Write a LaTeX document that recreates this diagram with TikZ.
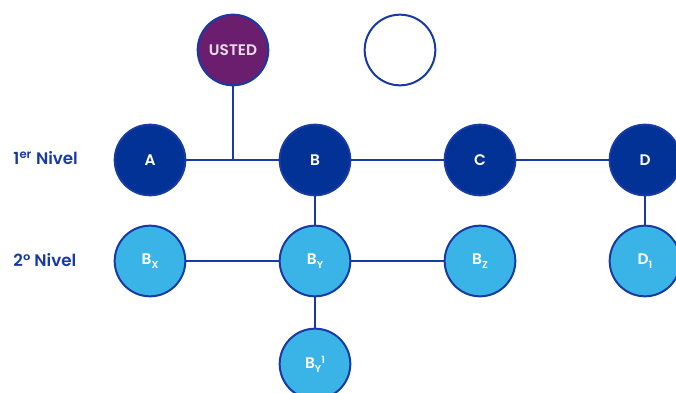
\documentclass[tikz,border=0pt]{standalone}
\usepackage{fontspec}
\setmainfont{Poppins}[BoldFont={Poppins SemiBold}]
\definecolor{azuloscuro}{RGB}{2,50,150}
\definecolor{borde}{RGB}{24,58,165}
\definecolor{celeste}{RGB}{58,180,230}
\definecolor{morado}{RGB}{108,30,110}
\tikzset{every picture/.style={line width=0.75pt}}
\tikzset{
  circulo/.style={circle,draw=borde,line width=1.5pt,minimum size=53pt,inner sep=0pt,font=\fontsize{11.5}{13}\selectfont\bfseries,text=white},
  nivuno/.style={circulo,fill=azuloscuro},
  nivdos/.style={circulo,fill=celeste},
  usted/.style={circulo,fill=morado,text=white!85!morado},
  vacio/.style={circulo,fill=white},
  rotulo/.style={anchor=west,inner sep=0.75pt,text=borde,font=\fontsize{12.5}{15}\selectfont\bfseries},
  enlace/.style={draw=borde,line width=1.4pt}
}
\newcommand{\subi}[1]{\raisebox{-0.45ex}{\fontsize{7.5}{8}\selectfont #1}}

\begin{document}
\begin{tikzpicture}[x=0.75pt,y=0.75pt,yscale=-1,xscale=1]
\useasboundingbox (0,0) rectangle (676,393);

%Shape: Circle top
\node [usted] (usted) at (233,50) {USTED};
\node [vacio] (vacio) at (400,50) {};
%Shape: Circle 1er nivel
\node [nivuno] (a) at (150,160) {A};
\node [nivuno] (b) at (315,160) {B};
\node [nivuno] (c) at (480,160) {C};
\node [nivuno] (d) at (645,160) {D};
%Shape: Circle 2o nivel
\node [nivdos] (bx) at (150,261) {B\subi{X}};
\node [nivdos] (by) at (315,261) {B\subi{Y}};
\node [nivdos] (bz) at (480,261) {B\subi{Z}};
\node [nivdos] (dd) at (645,261) {D\subi{1}};
\node [nivdos] (byy) at (315,364) {B\subi{Y}\raisebox{0.6ex}{\fontsize{7.5}{8}\selectfont 1}};
\coordinate (union) at (233,160);

%Straight Lines
\draw [enlace] (usted) -- (union);
\draw [enlace] (a) -- (b);
\draw [enlace] (b) -- (c);
\draw [enlace] (c) -- (d);
\draw [enlace] (b) -- (by);
\draw [enlace] (bx) -- (by);
\draw [enlace] (by) -- (bz);
\draw [enlace] (d) -- (dd);
\draw [enlace] (by) -- (byy);

% Text Node
\node [rotulo] (uno) at (12,158) {1\textsuperscript{er} Nivel};
% Text Node
\node [rotulo] (dos) at (12,260) {2° Nivel};

\end{tikzpicture}
\end{document}
